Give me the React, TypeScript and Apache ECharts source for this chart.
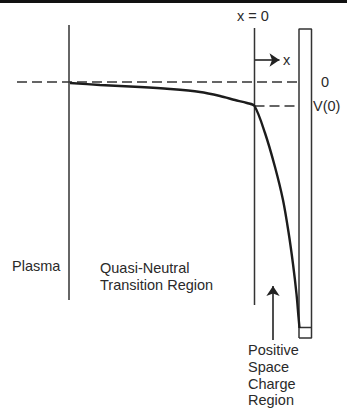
import React, { useEffect, useRef } from "react";
import * as echarts from "echarts";

// Potential profile: x (distance, 0 at sheath edge) and V (potential, 0 in plasma)
const curveX = [-184.5, -154.5, -114.5, -84.5, -54.5, -34.5, -19.5, -7.5, 0, 10.5, 20.5, 28.5, 34, 38.5, 42, 44, 45];
const curveV = [-1, -3, -5, -7, -10, -14, -18, -21, -24, -51, -85, -118, -150, -182, -212, -235, -246];

// Structure
const plasmaEdgeX = -185.5;
const plasmaEdgeV = [57, -218];
const sheathEdgeX = 0;
const sheathEdgeV = [54, -223];
const wallX = [44.5, 57];
const wallV = [53, -256];
const collectorV = -245.5;
const zeroLineX = [-237.5, 43.5];
const v0 = -24;
const v0LineX = [0, 43.5];
// Arrows: [x1, V1, x2, V2]
const xArrow = [0.5, 22, 25, 22];
const sheathArrow = [18.5, -258, 18.5, -204];

// Labels
const regionLabels = ["Plasma", "Quasi-Neutral", "Transition Region"];
const sheathLabels = ["Positive", "Space", "Charge", "Region"];

const INK = "#2a2a2a";
const FONT = '14.5px "Liberation Sans", Arial, sans-serif';

export default function App() {
  const ref = useRef<HTMLDivElement>(null);
  useEffect(() => {
    if (!ref.current) return;
    const chart = echarts.init(ref.current, undefined, { renderer: "svg" });
    const seg = (pts: number[][], extra: any = {}) => ({
      type: "line",
      data: pts,
      symbol: "none",
      silent: true,
      lineStyle: { color: "#333", width: 1.5, ...extra },
    });
    const txt = (text: string, x: number, y: number, align = "left") => ({
      type: "text",
      x,
      y,
      style: { text, font: FONT, fill: INK, align, verticalAlign: "middle" },
    });
    chart.setOption({
      animation: false,
      backgroundColor: "#fff",
      grid: { left: 0, right: 0, top: 0, bottom: 0 },
      xAxis: { type: "value", min: -254.5, max: 92.5, show: false },
      yAxis: { type: "value", min: -330, max: 82, show: false },
      graphic: [
        { type: "rect", shape: { x: 0, y: 0, width: 347, height: 3 }, style: { fill: "#111" } },
        txt("x = 0", 253, 16, "center"),
        txt("x", 283, 60),
        txt("0", 321, 82),
        txt("V(0)", 313, 106),
        txt(regionLabels[0], 12, 266),
        txt(regionLabels[1], 100, 268),
        txt(regionLabels[2], 100, 285),
        ...sheathLabels.map((s, i) => txt(s, 248, 350 + i * 16.8)),
      ],
      series: [
        seg([[zeroLineX[0], 0], [zeroLineX[1], 0]], { type: [10, 5] }),
        seg([[v0LineX[0], v0], [v0LineX[1], v0]], { type: [10, 5] }),
        seg([[plasmaEdgeX, plasmaEdgeV[0]], [plasmaEdgeX, plasmaEdgeV[1]]]),
        seg([[sheathEdgeX, sheathEdgeV[0]], [sheathEdgeX, sheathEdgeV[1]]]),
        seg([
          [wallX[0], wallV[1]],
          [wallX[0], wallV[0]],
          [wallX[1], wallV[0]],
          [wallX[1], wallV[1]],
          [wallX[0], wallV[1]],
        ]),
        seg([[wallX[0], collectorV], [wallX[1], collectorV]]),
        {
          type: "line",
          data: curveX.map((x, i) => [x, curveV[i]]),
          symbol: "none",
          smooth: 0.3,
          silent: true,
          lineStyle: { color: "#1c1c1c", width: 2.4 },
        },
        {
          type: "lines",
          coordinateSystem: "cartesian2d",
          symbol: ["none", "arrow"],
          symbolSize: 10,
          silent: true,
          lineStyle: { color: "#222", width: 1.6, opacity: 1 },
          data: [
            { coords: [[xArrow[0], xArrow[1]], [xArrow[2], xArrow[3]]] },
            { coords: [[sheathArrow[0], sheathArrow[1]], [sheathArrow[2], sheathArrow[3]]] },
          ],
        },
      ],
    });
    return () => chart.dispose();
  }, []);
  return (
    <div
      ref={ref}
      style={{ position: "fixed", left: 0, top: 0, width: 347, height: 412, background: "#fff" }}
    />
  );
}
